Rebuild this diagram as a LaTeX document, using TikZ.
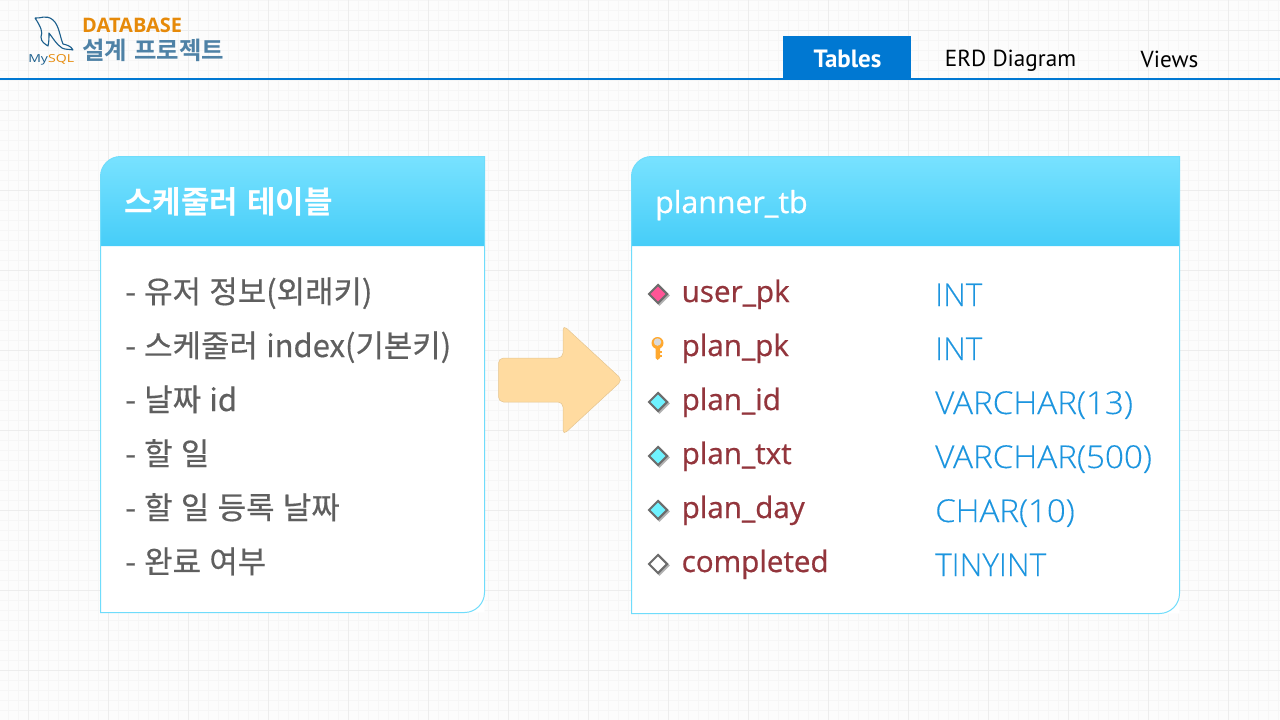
\documentclass[tikz,border=0pt]{standalone}
\usepackage{fontspec}
\setmainfont{Open Sans}
\newfontfamily\krfont[FakeBold=0.5,WordSpace=1.2]{Noto Sans CJK KR}
\newfontfamily\krbold[WordSpace=1.3]{Noto Sans CJK KR Bold}
\newfontfamily\keyfont[FakeBold=0.7]{Open Sans}
\newfontfamily\typefont[FakeBold=0.2]{Open Sans Light}
\newfontfamily\tabfont{PT Sans}
\usetikzlibrary{shapes.geometric}
\definecolor{tabblue}{HTML}{0078D2}
\definecolor{cardline}{HTML}{6FDCFB}
\definecolor{headtop}{HTML}{78E2FF}
\definecolor{headbot}{HTML}{46CDF8}
\definecolor{rowtext}{HTML}{5F5F5F}
\definecolor{keytext}{HTML}{93353C}
\definecolor{typetext}{HTML}{1C95DF}
\definecolor{titleorange}{HTML}{E68A0A}
\definecolor{titleblue}{HTML}{4F82A6}
\definecolor{arrowfill}{HTML}{FFDBA0}
\definecolor{dolphin}{HTML}{1B5E8C}
\definecolor{keygold}{HTML}{FFA82E}
\tikzset{
  headtext/.style={anchor=base west,inner sep=0,text=white,font=\krbold\fontsize{31}{36}\selectfont},
  rowlabel/.style={anchor=base west,inner sep=0,text=rowtext,font=\krfont\fontsize{30.9}{36}\selectfont},
  keylabel/.style={anchor=base west,inner sep=0,text=keytext,font=\keyfont\fontsize{29.6}{36}\selectfont},
  typelabel/.style={anchor=base west,inner sep=0,text=typetext,font=\typefont\fontsize{31.5}{36}\selectfont},
  tablabel/.style={anchor=base,font=\tabfont\fontsize{23.2}{28}\selectfont},
  keymark/.style={diamond,minimum width=19,minimum height=19,inner sep=0,draw=gray!85!black,line width=2},
  keyshadow/.style={diamond,minimum width=21,minimum height=21,inner sep=0,fill=black!30},
}
\newcommand{\tablecard}[5]{%kwargs x0, y0, x1, y1, head bottom
  \fill[white] (#1+20,#2) -- (#3,#2) -- (#3,#4) -- (#1,#4) -- (#1,#2+20)
  arc[start angle=180,end angle=90,x radius=20,y radius=-20] -- cycle;
  \shade[top color=headtop,bottom color=headbot] (#1,#5) -- (#1,#2+20)
  .. controls (#1,#2+9) and (#1+9,#2) .. (#1+20,#2) -- (#3,#2) -- (#3,#5) -- cycle;
  \draw[cardline,line width=1] (#1+20,#2) -- (#3,#2) -- (#3,#4-20)
  .. controls (#3,#4-9) and (#3-9,#4) .. (#3-20,#4) -- (#1,#4) -- (#1,#2+20)
  .. controls (#1,#2+9) and (#1+9,#2) .. (#1+20,#2);
}
\begin{document}
\begin{tikzpicture}[x=1pt,y=-1pt]
    \useasboundingbox (0,0) rectangle (1280,720);
    \fill[white!99!black] (0,0) rectangle (1280,720);
    %grid of the slide
    \foreach \gx in {-2,8,...,1280} \draw[black!3.5,line width=1] (\gx,0) -- (\gx,720);
    \foreach \gy in {0,10,...,720} \draw[black!3.5,line width=1] (0,\gy) -- (1280,\gy);
    \foreach \gx in {28,108,...,1280} \draw[black!7,line width=1] (\gx,0) -- (\gx,720);
    \foreach \gy in {30,110,...,720} \draw[black!7,line width=1] (0,\gy) -- (1280,\gy);
    %logo
    \draw[dolphin,line width=1.1,line join=round] (35,18)
    .. controls (40,19) and (46,14) .. (53,20)
    .. controls (59,25) and (60,37) .. (63,44)
    .. controls (67,45) and (71,46) .. (73,50)
    .. controls (70,49) and (66,50) .. (62,48)
    .. controls (56,44) and (53,38) .. (49,33)
    .. controls (49,38) and (49,42) .. (48,46)
    .. controls (45,44) and (41,42) .. (41,37)
    .. controls (43,32) and (41,27) .. (35,18);
    \node[anchor=base west,inner sep=0,xscale=1.28,font=\fontsize{11}{12}\selectfont] (logotext) at (28,62)
    {\textcolor{dolphin}{My}\textcolor{titleorange}{SQL}};
    \node[anchor=base west,inner sep=0,text=titleorange,font=\bfseries\fontsize{20}{24}\selectfont] (logotop) at (82,32) {DATABASE};
    \node[anchor=base west,inner sep=0,text=titleblue,font=\krbold\fontsize{24.4}{28}\selectfont] (logosub) at (82,59) {설계 프로젝트};
    %tabs
    \fill[tabblue] (783,36) rectangle (911,79);
    \draw[tabblue,line width=2] (0,79) -- (1280,79);
    \node[tablabel,text=white,font=\tabfont\bfseries\fontsize{25}{28}\selectfont] (tabtables) at (847.5,67) {Tables};
    \node[tablabel] (taberd) at (1010.5,66) {ERD Diagram};
    \node[tablabel] (tabviews) at (1169.5,67) {Views};
    %left card
    \tablecard{100.5}{156.5}{484.5}{612.5}{246}
    \node[headtext] (lefthead) at (124,213) {스케줄러 테이블};
    \foreach \rowname/\rowy/\rowtext in {
      a/303/- 유저 정보(외래키),
      b/357/- 스케줄러 index(기본키),
      c/411/- 날짜 id,
      d/465/- 할 일,
      e/519/- 할 일 등록 날짜,
      f/573/- 완료 여부}
      \node[rowlabel] (left\rowname) at (125,\rowy) {\rowtext};
    %arrow
    \fill[arrowfill,draw=arrowfill!90!black,line width=0.5,rounded corners=5]
    (498.5,358) -- (563,358) -- (563,325) -- (622.5,380) -- (563,435) -- (563,402) -- (498.5,402) -- cycle;
    %right card
    \tablecard{631.5}{156.5}{1179.5}{613.5}{246}
    \node[headtext,font=\keyfont\fontsize{30.3}{36}\selectfont] (righthead) at (655,213) {planner\_tb};
    \foreach \rowname/\rowy/\rowkey/\rowtype/\rowscale in {
      a/302/user\_pk/INT/1,
      b/356/plan\_pk/INT/1,
      c/410/plan\_id/VARCHAR(13)/1.055,
      d/464/plan\_txt/VARCHAR(500)/1.055,
      e/518/plan\_day/CHAR(10)/1.05,
      f/572/completed/TINYINT/1} {
      \node[keylabel] (key\rowname) at (681.5,\rowy) {\rowkey};
      \node[typelabel,xscale=\rowscale] (type\rowname) at (935,\rowy+4) {\rowtype};
    }
    %key marks
    \foreach \markname/\marky/\markfill in {
      a/294/FF5596,
      c/402/6FF2FF,
      d/456/6FF2FF,
      e/510/6FF2FF,
      f/564/FFFFFF} {
      \definecolor{markcolor}{HTML}{\markfill}
      \node[keyshadow] (shadow\markname) at (659.5,\marky+1.5) {};
      \node[keymark,fill=markcolor] (mark\markname) at (658,\marky) {};
    }
    %primary key
    \fill[keygold] (655.5,345) -- (660,345) -- (660,358) -- (657.5,360) -- (655.5,358) -- cycle;
    \fill[keygold] (659,351) rectangle (661.5,353);
    \fill[keygold] (659,355) rectangle (661.5,357);
    \node[circle,minimum width=12,inner sep=0,fill=keygold] (keyhead) at (657.5,343) {};
    \node[circle,minimum width=7.5,inner sep=0,fill=black!15] (keyhole) at (657.5,342) {};
\end{tikzpicture}
\end{document}
